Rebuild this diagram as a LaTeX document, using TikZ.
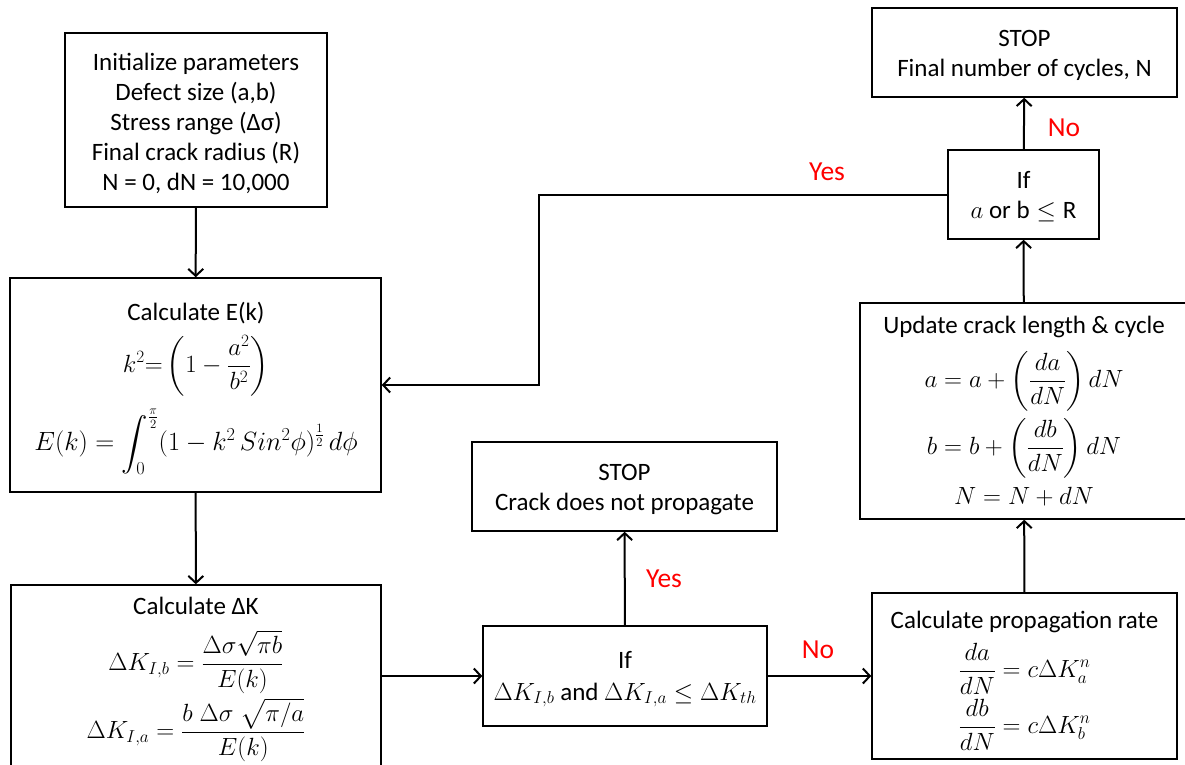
\documentclass[tikz,border=0pt]{standalone}
\usepackage{amsmath}
\usepackage{fontspec}
\setmainfont{Carlito}
\usetikzlibrary{arrows.meta}
\begin{document}
\begin{tikzpicture}[x=1pt,y=-1pt,
  box/.style={draw, line width=1.5pt, inner sep=0pt},
  tl/.style={inner sep=0pt, align=center, font=\fontsize{25}{30}\selectfont},
  tb/.style={tl, anchor=base},
  conn/.style={line width=2pt, -{Straight Barb[length=7pt,width=15pt]}},
  lab/.style={text=red, font=\fontsize{27.5}{32}\selectfont, inner sep=0pt}]
\clip (0,0) rectangle (1185,764);
\fill[white] (0,0) rectangle (1185,764);

% boxes
\node[box, minimum width=262pt, minimum height=174pt] (init) at (196,120) {};
\node[box, minimum width=371pt, minimum height=214pt] (calcE) at (195.5,385) {};
\node[box, minimum width=370pt, minimum height=190pt] (calcK) at (196,680) {};
\node[box, minimum width=284pt, minimum height=100pt] (ifK) at (625,676) {};
\node[box, minimum width=305pt, minimum height=89pt] (stopA) at (624.5,486.5) {};
\node[box, minimum width=305pt, minimum height=166pt] (prop) at (1024.5,676) {};
\node[box, minimum width=328pt, minimum height=216pt] (upd) at (1024,411) {};
\node[box, minimum width=151pt, minimum height=89pt] (ifR) at (1023.5,194.5) {};
\node[box, minimum width=305pt, minimum height=89pt] (stopB) at (1024.5,52.5) {};

% texts
\node[tl] (initT) at (196,123)
  {Initialize parameters\\ Defect size (a,b)\\ Stress range (Δσ)\\ Final crack radius (R)\\ N = 0, dN = 10,000};

\node[tb] (calcE1) at (196,320) {Calculate E(k)};
\node[tl] (calcE2) at (196,366) {$\displaystyle k^2{=}\left(1-\frac{a^2}{b^2}\right)$};
\node[tl] (calcE3) at (196,442)
  {\scalebox{1.06}{$\displaystyle E(k)=\int_0^{\frac{\pi}{2}}(1-k^2\,Sin^2\phi)^{\frac{1}{2}}\,d\phi$}};

\node[tb] (calcK1) at (196,614) {Calculate ΔK};
\node[tl] (calcK2) at (196,662) {$\displaystyle \Delta K_{I,b}=\frac{\Delta\sigma\sqrt{\pi b}}{E(k)}$};
\node[tl] (calcK3) at (196,730) {$\displaystyle \Delta K_{I,a}=\frac{b\;\Delta\sigma\;\sqrt{\pi/a}}{E(k)}$};

\node[tb] (ifK1) at (625,668) {If};
\node[tb] (ifK2) at (625,700) {$\Delta K_{I,b}$ and $\Delta K_{I,a}\leq\Delta K_{th}$};

\node[tb] (stopA1) at (624.5,480) {STOP};
\node[tb] (stopA2) at (624.5,510) {Crack does not propagate};

\node[tb] (prop1) at (1024.5,628) {Calculate propagation rate};
\node[tl] (prop2) at (1024.5,669) {$\displaystyle \frac{da}{dN}=c\Delta K_a^n$};
\node[tl] (prop3) at (1024.5,725) {$\displaystyle \frac{db}{dN}=c\Delta K_b^n$};

\node[tb] (upd1) at (1024,333) {Update crack length \& cycle};
\node[tl] (upd2) at (1024,381) {$\displaystyle a=a+\left(\frac{da}{dN}\right)dN$};
\node[tl] (upd3) at (1024,448) {$\displaystyle b=b+\left(\frac{db}{dN}\right)dN$};
\node[tb] (upd4) at (1024,504) {$N=N+dN$};

\node[tb] (ifR1) at (1023.5,188) {If};
\node[tb] (ifR2) at (1023.5,218) {$a$ or $\mathrm{b}\leq\mathrm{R}$};

\node[tb] (stopB1) at (1024.5,46) {STOP};
\node[tb] (stopB2) at (1024.5,76) {Final number of cycles, N};

% connectors
\coordinate (turn) at (539,290);
\draw[conn] (init) -- (calcE);
\draw[conn] (calcE) -- (calcK);
\draw[conn] (calcK.east |- ifK.west) -- (ifK.west);
\draw[conn] (ifK) -- (stopA);
\draw[conn] (ifK) -- (prop);
\draw[conn] (prop) -- (upd);
\draw[conn] (upd) -- (ifR);
\draw[conn] (ifR) -- (stopB);
\draw[conn] (ifR.west) -| (turn) |- (calcE.east);

% labels
\node[lab] (yesA) at (664,579) {Yes};
\node[lab] (noA) at (818,650) {No};
\node[lab] (yesB) at (827,172) {Yes};
\node[lab] (noB) at (1064,128) {No};
\end{tikzpicture}
\end{document}
